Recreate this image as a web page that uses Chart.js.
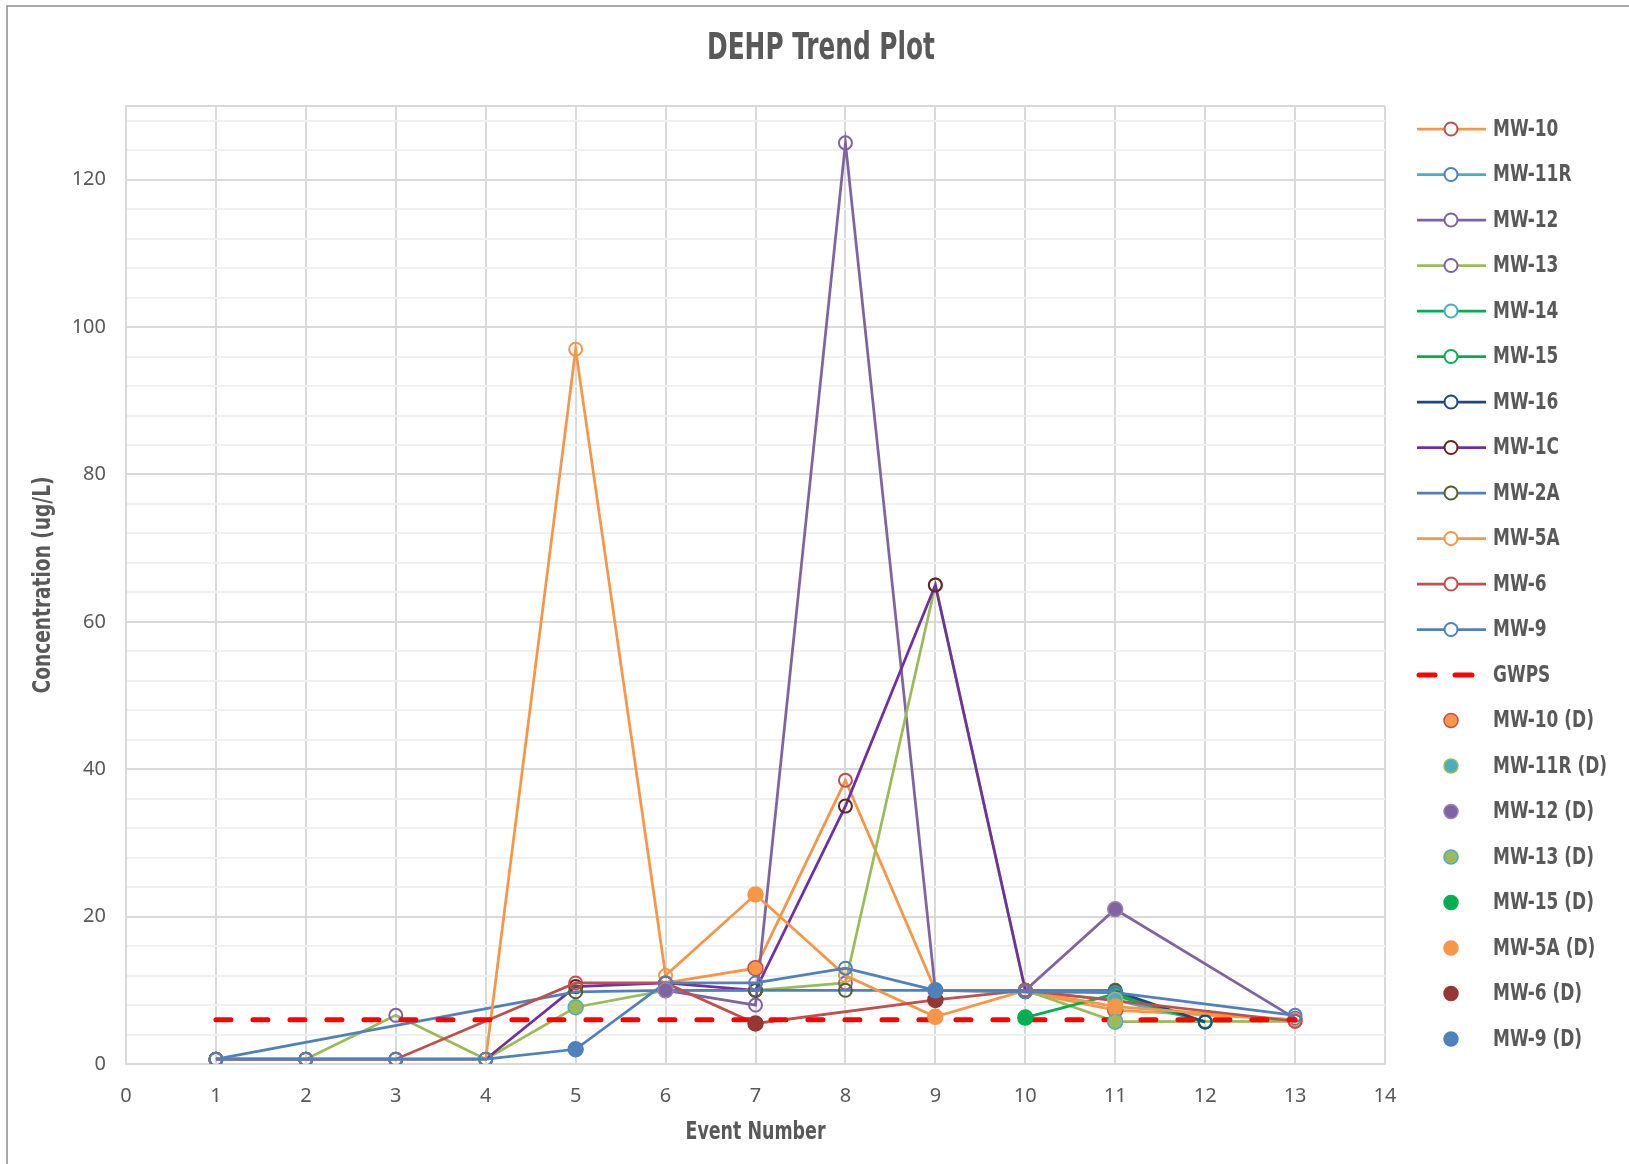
<!DOCTYPE html>
<html>
<head>
<meta charset="utf-8">
<title>DEHP Trend Plot</title>
<script src="https://cdn.jsdelivr.net/npm/chart.js@4.4.1/dist/chart.umd.min.js"></script>
<style>
  html, body { margin: 0; padding: 0; background: #fff; }
  #wrap { width: 1629px; height: 1164px; }
</style>
</head>
<body>
<div id="wrap"><canvas id="myChart" width="1629" height="1164"></canvas></div>
<script>
// event numbers (x) and concentrations (ug/L) per well, null = not sampled
const events = [1, 2, 3, 4, 5, 6, 7, 8, 9, 10, 11, 12, 13];
const mw10  = [null, null, null, null, null, 11, 13, 38.5, 10, 9.8, 7.3, null, 6.0];
const mw11r = [null, null, null, null, null, null, null, null, null, 9.8, 8.7, 5.8, null];
const mw12  = [null, null, null, null, null, 10, 8, 125, 10, 10, 21, null, 6.2];
const mw13  = [0.65, 0.65, 6.6, 0.65, 7.7, 10, 10, 11, 65, 10, 5.75, null, 5.8];
const mw14  = [null, null, null, null, null, null, null, null, null, null, 9.3, 5.7, null];
const mw15  = [null, null, null, null, null, null, null, null, null, 6.3, 9.5, 5.7, null];
const mw16  = [null, null, null, null, null, null, null, null, null, null, 9.9, 5.7, null];
const mw1c  = [0.65, 0.65, 0.65, 0.65, 10.5, 11, 10, 35, 65, 10, null, null, null];
const mw2a  = [0.65, null, null, null, 9.8, 10, 10, 10, 10, 10, 10, null, null];
const mw5a  = [0.65, 0.65, 0.65, 0.65, 97, 12, 23, 12, 6.4, 10, 7.8, null, 6.0];
const mw6   = [0.65, 0.65, 0.65, null, 11, 11, 5.5, null, 8.7, 10, null, null, 5.8];
const mw9   = [0.65, 0.65, 0.65, 0.65, 2.0, 11, 11, 13, 10, 9.8, 9.7, null, 6.6];

// groundwater protection standard
const gwpsEvents = [1, 13];
const gwpsValues = [6, 6];

// detected results (filled markers)
const mw10D  = [null, null, null, null, null, null, 13, null, null, null, 7.3, null, null];
const mw11rD = [null, null, null, null, null, null, null, null, null, null, 8.7, null, null];
const mw12D  = [null, null, null, null, null, 10, null, null, null, null, 21, null, null];
const mw13D  = [null, null, null, null, 7.7, null, null, null, null, null, 5.75, null, null];
const mw15D  = [null, null, null, null, null, null, null, null, null, 6.3, null, null, null];
const mw5aD  = [null, null, null, null, null, null, 23, null, 6.4, null, 7.8, null, null];
const mw6D   = [null, null, null, null, null, null, 5.5, null, 8.7, null, null, null, null];
const mw9D   = [null, null, null, null, 2.0, null, null, null, 10, null, null, null, null];

const yTicks = [0, 20, 40, 60, 80, 100, 120];

const chartTitle = 'DEHP Trend Plot';
const xTitle = 'Event Number';
const yTitle = 'Concentration (ug/L)';

const condFont = "'DejaVu Sans Condensed', 'Liberation Sans Narrow', 'Roboto Condensed', Roboto, sans-serif";
const tickFont = "'Noto Sans', 'Open Sans', sans-serif";
const textGrey = '#595959';

function toPoints(xs, vals) {
  const pts = [];
  vals.forEach((v, i) => { if (v !== null) pts.push({ x: xs[i], y: v }); });
  return pts;
}

function wellLine(label, vals, lineColor, markColor) {
  return {
    label: label,
    data: toPoints(events, vals),
    showLine: true,
    borderColor: lineColor,
    borderWidth: 2.75,
    pointRadius: 6.5,
    pointBorderWidth: 2,
    pointBorderColor: markColor,
    pointBackgroundColor: 'rgba(0,0,0,0)',
    tension: 0,
    fill: false
  };
}

function detectDots(label, vals, fillColor, edgeColor) {
  return {
    label: label,
    data: toPoints(events, vals),
    showLine: false,
    pointRadius: 7.5,
    pointBorderWidth: 1.5,
    pointBorderColor: edgeColor,
    pointBackgroundColor: fillColor,
    isDetect: true
  };
}

const datasets = [
  wellLine('MW-10', mw10, '#F79646', '#C0504D'),
  wellLine('MW-11R', mw11r, '#4BACC6', '#4F81BD'),
  wellLine('MW-12', mw12, '#8064A2', '#8064A2'),
  wellLine('MW-13', mw13, '#9BBB59', '#8064A2'),
  wellLine('MW-14', mw14, '#00B050', '#4BACC6'),
  wellLine('MW-15', mw15, '#00B050', '#00B050'),
  wellLine('MW-16', mw16, '#1F497D', '#1F497D'),
  wellLine('MW-1C', mw1c, '#7030A0', '#632523'),
  wellLine('MW-2A', mw2a, '#4F81BD', '#4F6228'),
  wellLine('MW-5A', mw5a, '#F79646', '#F79646'),
  wellLine('MW-6', mw6, '#C0504D', '#C0504D'),
  wellLine('MW-9', mw9, '#4F81BD', '#4F81BD'),
  {
    label: 'GWPS',
    data: toPoints(gwpsEvents, gwpsValues),
    showLine: true,
    borderColor: '#FF0000',
    borderWidth: 5,
    borderDash: [15, 22],
    borderCapStyle: 'round',
    pointRadius: 0,
    isDash: true
  },
  detectDots('MW-10 (D)', mw10D, '#F79646', '#C0504D'),
  detectDots('MW-11R (D)', mw11rD, '#4BACC6', '#9BBB59'),
  detectDots('MW-12 (D)', mw12D, '#8064A2', '#9682B5'),
  detectDots('MW-13 (D)', mw13D, '#9BBB59', '#4BACC6'),
  detectDots('MW-15 (D)', mw15D, '#00B050', '#00B050'),
  detectDots('MW-5A (D)', mw5aD, '#F79646', '#F79646'),
  detectDots('MW-6 (D)', mw6D, '#953735', '#953735'),
  detectDots('MW-9 (D)', mw9D, '#4F81BD', '#4F81BD')
];
// excel draws later series on top
datasets.forEach((d, i) => { d.order = datasets.length - 1 - i; });

// draws condensed text squeezed to a given width
function narrowText(c, text, x, y, size, width, rot) {
  c.save();
  c.font = 'bold ' + size + 'px ' + condFont;
  c.fillStyle = textGrey;
  c.textAlign = 'center';
  c.textBaseline = 'middle';
  const w = c.measureText(text).width;
  c.translate(x, y);
  if (rot) c.rotate(rot);
  c.scale(width / w, 1);
  c.fillText(text, 0, 0);
  c.restore();
}

const framePlugin = {
  id: 'frame',
  beforeDraw(chart) {
    const c = chart.ctx;
    c.save();
    c.fillStyle = '#fff';
    c.fillRect(0, 0, chart.width, chart.height);
    c.strokeStyle = '#8c8c8c';
    c.lineWidth = 1.5;
    c.beginPath();
    c.moveTo(7, chart.height);
    c.lineTo(7, 6);
    c.lineTo(chart.width, 6);
    c.stroke();
    c.restore();
  },
  beforeDatasetsDraw(chart) {
    // plot area top border
    const a = chart.chartArea, c = chart.ctx;
    c.save();
    c.strokeStyle = '#d9d9d9';
    c.lineWidth = 2;
    c.beginPath();
    c.moveTo(a.left, a.top);
    c.lineTo(a.right, a.top);
    c.stroke();
    c.restore();
  },
  afterDraw(chart) {
    const c = chart.ctx, a = chart.chartArea;
    narrowText(c, chartTitle, 821, 49, 37, 228, 0);
    narrowText(c, xTitle, (a.left + a.right) / 2, 1133, 24, 140, 0);
    narrowText(c, yTitle, 44, (a.top + a.bottom) / 2, 24, 217, -Math.PI / 2);
  }
};

const sideLegend = {
  id: 'sideLegend',
  afterDraw(chart) {
    const c = chart.ctx, a = chart.chartArea;
    const x0 = a.right + 32, x1 = a.right + 101, xm = a.right + 66, tx = a.right + 108;
    c.save();
    chart.data.datasets.forEach((ds, i) => {
      const y = 129 + i * 45.5;
      if (ds.isDash) {
        c.strokeStyle = ds.borderColor;
        c.lineWidth = 5;
        c.lineCap = 'round';
        c.beginPath();
        c.moveTo(x0 + 2, y); c.lineTo(x0 + 18, y);
        c.moveTo(x0 + 38, y); c.lineTo(x0 + 55, y);
        c.stroke();
      } else if (ds.isDetect) {
        c.beginPath();
        c.arc(xm, y, 7, 0, Math.PI * 2);
        c.fillStyle = ds.pointBackgroundColor;
        c.fill();
        c.lineWidth = 1.5;
        c.strokeStyle = ds.pointBorderColor;
        c.stroke();
      } else {
        c.strokeStyle = ds.borderColor;
        c.lineWidth = 2.75;
        c.lineCap = 'butt';
        c.beginPath();
        c.moveTo(x0, y); c.lineTo(x1, y);
        c.stroke();
        c.beginPath();
        c.arc(xm, y, 6.5, 0, Math.PI * 2);
        c.fillStyle = '#fff';
        c.fill();
        c.lineWidth = 2;
        c.strokeStyle = ds.pointBorderColor;
        c.stroke();
      }
      // label, squeezed like the condensed original
      c.save();
      c.font = 'bold 23px ' + condFont;
      c.fillStyle = textGrey;
      c.textAlign = 'left';
      c.textBaseline = 'middle';
      c.translate(tx, y + 1);
      c.scale(0.82, 1);
      c.fillText(ds.label, 0, 0);
      c.restore();
    });
    c.restore();
  }
};

const ctx = document.getElementById('myChart').getContext('2d');
const myChart = new Chart(ctx, {
  type: 'line',
  data: { datasets: datasets },
  options: {
    responsive: false,
    animation: false,
    layout: { padding: { left: 0, right: 244, top: 106, bottom: 0 } },
    plugins: {
      legend: { display: false },
      tooltip: { enabled: false },
      title: { display: false }
    },
    scales: {
      x: {
        type: 'linear',
        min: 0,
        max: 14,
        ticks: { stepSize: 1, autoSkip: false, color: textGrey, font: { family: tickFont, size: 20 }, padding: 20 },
        grid: { color: '#d9d9d9', lineWidth: 2, drawTicks: false },
        border: { display: true, color: '#d9d9d9', width: 2 },
        afterFit(s) { s.height = 100; }
      },
      y: {
        type: 'linear',
        min: 0,
        max: 130,
        ticks: {
          stepSize: 4,
          autoSkip: false,
          includeBounds: false,
          color: textGrey,
          font: { family: tickFont, size: 20 },
          padding: 20,
          callback: v => (yTicks.includes(v) ? v : '')
        },
        grid: {
          color: c => (c.tick && yTicks.includes(c.tick.value) ? '#d9d9d9' : '#f0f0f0'),
          lineWidth: 2,
          drawTicks: false
        },
        border: { display: true, color: '#d9d9d9', width: 2 },
        afterFit(s) { s.width = 126; }
      }
    }
  },
  plugins: [framePlugin, sideLegend]
});
</script>
</body>
</html>
